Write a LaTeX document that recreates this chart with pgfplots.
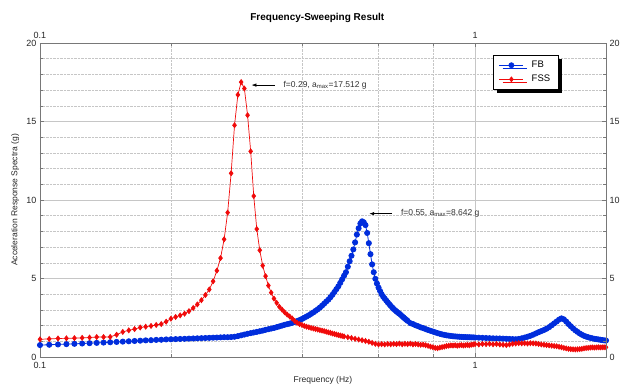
\documentclass[border=0pt]{standalone}
\usepackage{fontspec}
\setmainfont{Liberation Sans}
\usepackage{pgfplots}
\pgfplotsset{compat=1.18}
\usetikzlibrary{shadows,arrows.meta}
\definecolor{fbblue}{RGB}{0,45,220}
\definecolor{fssred}{RGB}{240,10,10}
\definecolor{axgray}{RGB}{120,120,120}
\begin{document}
\begin{tikzpicture}
\begin{axis}[
  scale only axis, width=566pt, height=314pt,
  xmode=log, xmin=0.1, xmax=2, ymin=0, ymax=20,
  xtick={0.1,1}, xticklabels={0.1,1},
  minor xtick={0.2,0.4,0.6,0.8},
  ytick={0,5,10,15,20}, yticklabels={0,5,10,15,20},
  minor ytick={1,2,3,4,6,7,8,9,11,12,13,14,16,17,18,19},
  axis line style={axgray, line width=0.8pt},
  tick style={axgray, line width=0.6pt},
  major tick length=4pt, minor tick length=3pt,
  tick label style={font=\fontsize{9}{10}\selectfont, text=black!85},
  xticklabel style={yshift=-2pt},
  grid=both,
  major grid style={solid, gray!45, line width=0.5pt},
  minor grid style={densely dotted, gray!45, line width=0.5pt},
  title={Frequency-Sweeping Result},
  title style={font=\bfseries\fontsize{10}{12}\selectfont, at={(axis description cs:0.49,1.083)}, anchor=center, yshift=-7pt},
  xlabel={Frequency (Hz)},
  xlabel style={font=\fontsize{8.5}{10}\selectfont, text=black!85, at={(axis description cs:0.5,-0.073)}, anchor=center},
  ylabel={Acceleration Response Spectra (g)},
  ylabel style={font=\fontsize{8.5}{10}\selectfont, text=black!85, at={(axis description cs:-0.044,0.5)}, anchor=center},
  legend style={at={(axis description cs:0.800,0.962)}, anchor=north west, draw=black, line width=0.6pt, fill=white,
    font=\fontsize{9.5}{11}\selectfont, inner xsep=6pt, inner ysep=4pt, row sep=2pt, cells={anchor=west},
    /tikz/every odd column/.append style={column sep=6pt},
    drop shadow={shadow xshift=3.5pt, shadow yshift=-3.5pt, fill=black, opacity=1}},
  legend image code/.code={\draw[mark repeat=2, mark phase=2, #1, line width=0.6pt] plot coordinates {(0pt,0pt) (12pt,0pt) (24pt,0pt)};},
]
\coordinate (sw) at (rel axis cs:0,0);
\coordinate (ne) at (rel axis cs:1,1);
\addplot[color=fbblue, line width=0.8pt, mark=*, mark size=2.6pt, mark options={fill=fbblue, draw=fbblue}] coordinates {
(0.100,0.76)(0.105,0.78)(0.110,0.80)(0.115,0.82)(0.120,0.84)(0.125,0.86)(0.130,0.88)(0.135,0.90)(0.140,0.92)(0.145,0.94)
(0.150,0.96)(0.155,0.98)(0.160,1.00)(0.165,1.02)(0.170,1.04)(0.175,1.06)(0.180,1.07)(0.185,1.09)(0.190,1.10)(0.195,1.12)
(0.200,1.13)(0.205,1.14)(0.210,1.15)(0.215,1.16)(0.220,1.17)(0.225,1.18)(0.230,1.19)(0.235,1.20)(0.240,1.21)(0.245,1.22)
(0.250,1.23)(0.255,1.24)(0.260,1.25)(0.265,1.26)(0.270,1.26)(0.275,1.27)(0.280,1.29)(0.285,1.33)(0.290,1.38)(0.295,1.43)
(0.300,1.48)(0.305,1.52)(0.310,1.56)(0.315,1.60)(0.320,1.64)(0.325,1.68)(0.330,1.73)(0.335,1.77)(0.340,1.81)(0.345,1.85)
(0.350,1.90)(0.355,1.95)(0.360,2.00)(0.365,2.05)(0.370,2.09)(0.375,2.13)(0.380,2.18)(0.385,2.23)(0.390,2.29)(0.395,2.35)
(0.400,2.42)(0.405,2.50)(0.410,2.58)(0.415,2.66)(0.420,2.75)(0.425,2.84)(0.430,2.94)(0.435,3.04)(0.440,3.15)(0.445,3.27)
(0.450,3.40)(0.455,3.53)(0.460,3.65)(0.465,3.80)(0.470,3.96)(0.475,4.14)(0.480,4.32)(0.485,4.50)(0.490,4.72)(0.495,4.95)
(0.500,5.18)(0.505,5.40)(0.510,5.75)(0.515,6.10)(0.520,6.45)(0.525,6.85)(0.530,7.30)(0.535,7.80)(0.540,8.20)(0.545,8.50)
(0.550,8.642)(0.555,8.58)(0.560,8.40)(0.565,7.90)(0.570,7.25)(0.575,6.55)(0.580,5.90)(0.585,5.40)(0.590,4.98)(0.595,4.68)
(0.600,4.42)(0.605,4.20)(0.610,4.00)(0.615,3.84)(0.620,3.72)(0.625,3.60)(0.630,3.48)(0.635,3.37)(0.640,3.26)(0.645,3.16)
(0.650,3.06)(0.655,2.98)(0.660,2.90)(0.665,2.82)(0.670,2.76)(0.675,2.68)(0.680,2.60)(0.685,2.52)(0.690,2.44)(0.695,2.37)
(0.700,2.30)(0.71,2.16)(0.72,2.10)(0.73,2.02)(0.74,1.96)(0.75,1.89)(0.76,1.84)(0.77,1.78)(0.78,1.72)(0.79,1.67)
(0.80,1.62)(0.81,1.57)(0.82,1.52)(0.83,1.48)(0.84,1.44)(0.85,1.41)(0.86,1.38)(0.87,1.36)(0.88,1.34)(0.89,1.32)
(0.90,1.31)(0.91,1.30)(0.92,1.29)(0.93,1.28)(0.94,1.27)(0.95,1.27)(0.96,1.26)(0.97,1.26)(0.98,1.25)(0.99,1.25)
(1.00,1.24)(1.02,1.23)(1.04,1.22)(1.06,1.21)(1.08,1.20)(1.10,1.19)(1.12,1.18)(1.14,1.18)(1.16,1.17)(1.18,1.16)
(1.20,1.15)(1.22,1.14)(1.24,1.13)(1.26,1.15)(1.28,1.19)(1.30,1.24)(1.32,1.29)(1.34,1.35)(1.36,1.42)(1.38,1.50)
(1.40,1.58)(1.42,1.65)(1.44,1.72)(1.46,1.80)(1.48,1.90)(1.50,2.02)(1.52,2.14)(1.54,2.26)(1.56,2.38)(1.58,2.46)
(1.60,2.40)(1.62,2.26)(1.64,2.10)(1.66,1.96)(1.68,1.82)(1.70,1.70)(1.72,1.60)(1.74,1.50)(1.76,1.42)(1.78,1.35)
(1.80,1.30)(1.82,1.26)(1.84,1.22)(1.86,1.19)(1.88,1.16)(1.90,1.14)(1.92,1.12)(1.94,1.10)(1.96,1.08)(1.98,1.06)(2.00,1.05)
};
\addlegendentry{FB}
\addplot[color=fssred, line width=0.7pt, mark=diamond*, mark size=2.5pt, mark options={fill=fssred, draw=fssred}] coordinates {
(0.100,1.13)(0.105,1.15)(0.110,1.18)(0.115,1.19)(0.120,1.20)(0.125,1.22)(0.130,1.24)(0.135,1.27)(0.140,1.27)(0.145,1.28)
(0.150,1.42)(0.155,1.60)(0.160,1.70)(0.165,1.78)(0.170,1.88)(0.175,1.93)(0.180,1.98)(0.185,2.04)(0.190,2.10)(0.195,2.25)
(0.200,2.44)(0.205,2.55)(0.210,2.65)(0.215,2.76)(0.220,2.92)(0.225,3.12)(0.230,3.35)(0.235,3.62)(0.240,3.95)(0.245,4.30)
(0.250,4.82)(0.255,5.50)(0.260,6.30)(0.265,7.50)(0.270,9.20)(0.275,11.70)(0.280,14.76)(0.285,16.70)(0.290,17.512)(0.295,17.10)
(0.300,15.40)(0.305,13.10)(0.310,10.25)(0.315,8.15)(0.320,6.80)(0.325,5.82)(0.330,5.15)(0.335,4.55)(0.340,4.10)(0.345,3.72)
(0.350,3.45)(0.355,3.20)(0.360,3.02)(0.365,2.85)(0.370,2.70)(0.375,2.58)(0.380,2.45)(0.385,2.30)(0.390,2.18)(0.395,2.10)
(0.400,2.04)(0.405,1.98)(0.410,1.93)(0.415,1.89)(0.420,1.85)(0.425,1.82)(0.430,1.78)(0.435,1.75)(0.440,1.71)(0.445,1.68)
(0.450,1.65)(0.455,1.61)(0.460,1.57)(0.465,1.54)(0.470,1.50)(0.475,1.47)(0.480,1.43)(0.485,1.40)(0.490,1.37)(0.495,1.34)
(0.500,1.31)(0.51,1.26)(0.52,1.21)(0.53,1.16)(0.54,1.11)(0.55,1.07)(0.56,1.02)(0.57,0.97)(0.58,0.90)(0.59,0.84)
(0.60,0.80)(0.61,0.82)(0.62,0.80)(0.63,0.83)(0.64,0.81)(0.65,0.84)(0.66,0.82)(0.67,0.85)(0.68,0.81)(0.69,0.84)
(0.70,0.82)(0.71,0.85)(0.72,0.80)(0.73,0.83)(0.74,0.80)(0.75,0.78)(0.76,0.79)(0.77,0.75)(0.78,0.71)(0.79,0.66)
(0.80,0.62)(0.81,0.58)(0.82,0.56)(0.83,0.60)(0.84,0.63)(0.85,0.66)(0.86,0.70)(0.87,0.72)(0.88,0.74)(0.89,0.73)
(0.90,0.75)(0.91,0.72)(0.92,0.74)(0.93,0.76)(0.94,0.73)(0.95,0.75)(0.96,0.77)(0.97,0.75)(0.98,0.78)(0.99,0.80)
(1.00,0.82)(1.02,0.80)(1.04,0.83)(1.06,0.82)(1.08,0.84)(1.10,0.81)(1.12,0.83)(1.14,0.80)(1.16,0.78)(1.18,0.76)
(1.20,0.80)(1.22,0.84)(1.24,0.86)(1.26,0.88)(1.28,0.87)(1.30,0.88)(1.32,0.86)(1.34,0.88)(1.36,0.87)(1.38,0.86)
(1.40,0.83)(1.42,0.80)(1.44,0.78)(1.46,0.76)(1.48,0.74)(1.50,0.72)(1.52,0.70)(1.54,0.68)(1.56,0.65)(1.58,0.62)
(1.60,0.58)(1.62,0.55)(1.64,0.52)(1.66,0.50)(1.68,0.49)(1.70,0.48)(1.72,0.49)(1.74,0.50)(1.76,0.52)(1.78,0.55)
(1.80,0.57)(1.82,0.58)(1.84,0.60)(1.86,0.61)(1.88,0.60)(1.90,0.61)(1.92,0.62)(1.94,0.61)(1.96,0.62)(1.98,0.62)(2.00,0.62)
};
\addlegendentry{FSS}
\draw[-{Latex[length=5pt,width=3.5pt]}, black, line width=0.6pt] (axis cs:0.346,17.32) -- (axis cs:0.3063,17.32);
\node[anchor=west, inner sep=0pt, font=\fontsize{8.5}{10}\selectfont, text=black!80] at (axis cs:0.3627,17.32) {f=0.29, a\textsubscript{max}=17.512 g};
\draw[-{Latex[length=5pt,width=3.5pt]}, black, line width=0.6pt] (axis cs:0.645,9.13) -- (axis cs:0.5712,9.13);
\node[anchor=west, inner sep=0pt, font=\fontsize{8.5}{10}\selectfont, text=black!80] at (axis cs:0.6754,9.13) {f=0.55, a\textsubscript{max}=8.642 g};
\end{axis}
\begin{axis}[
  scale only axis, width=566pt, height=314pt,
  xmode=log, xmin=0.1, xmax=2, ymin=0, ymax=20,
  xtick={0.1,1}, xticklabels={0.1,1},
  minor xtick={0.2,0.4,0.6,0.8},
  ytick={0,5,10,15,20}, yticklabels={0,5,10,15,20},
  minor ytick={1,2,3,4,6,7,8,9,11,12,13,14,16,17,18,19},
  axis x line*=top, axis y line*=right,
  axis line style={-, axgray, line width=0.8pt},
  tick style={axgray, line width=0.6pt},
  major tick length=4pt, minor tick length=3pt,
  tick label style={font=\fontsize{9}{10}\selectfont, text=black!85},
  xticklabel style={yshift=1pt},
]
\end{axis}
\pgfresetboundingbox
\path[use as bounding box] ([shift={(-40pt,-29pt)}]sw) rectangle ([shift={(18pt,43pt)}]ne);
\end{tikzpicture}
\end{document}
